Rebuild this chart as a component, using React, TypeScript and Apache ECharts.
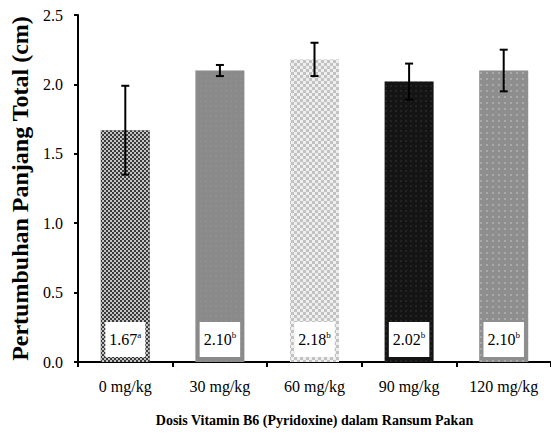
import React, { useEffect, useRef } from "react";
import * as echarts from "echarts";

const categories = ["0 mg/kg", "30 mg/kg", "60 mg/kg", "90 mg/kg", "120 mg/kg"];
const means = [1.67, 2.1, 2.18, 2.02, 2.1];
const sds = [0.32, 0.04, 0.12, 0.13, 0.15];
const letters = ["a", "b", "b", "b", "b"];
const yTicks = { min: 0, max: 2.5, interval: 0.5 };

const barColors = ["#3a3a3a", "#8a8a8a", "#efefef", "#141414", "#8e8e8e"];
const decals = [
  { symbol: "rect", symbolSize: 1, color: "#c4c4c4", dashArrayX: [[2, 2], [0, 2, 2, 0]], dashArrayY: [2, 0] },
  { symbol: "circle", symbolSize: 0.6, color: "#979797", dashArrayX: [[2, 3]], dashArrayY: [2, 3] },
  { symbol: "rect", symbolSize: 1, color: "#c2c2c2", dashArrayX: [[2.5, 2.5], [0, 2.5, 2.5, 0]], dashArrayY: [2.5, 0] },
  { symbol: "circle", symbolSize: 0.7, color: "#3a3a3a", dashArrayX: [[2, 3]], dashArrayY: [2, 3] },
  { symbol: "circle", symbolSize: 0.8, color: "#b8b8b8", dashArrayX: [[2, 4]], dashArrayY: [2, 4] },
];

const FONT = "'Liberation Serif', 'Times New Roman', serif";

export default function App() {
  const ref = useRef<HTMLDivElement>(null);
  useEffect(() => {
    document.body.style.margin = "0";
    if (!ref.current) return;
    const chart = echarts.init(ref.current, null, { renderer: "svg" });
    chart.setOption({
      animation: false,
      backgroundColor: "#ffffff",
      grid: { left: 70, right: 0, top: 15, bottom: 75 },
      xAxis: {
        type: "category",
        data: categories,
        axisLine: { lineStyle: { color: "#000", width: 2 } },
        axisTick: { show: true, length: 5, lineStyle: { color: "#000", width: 2 } },
        axisLabel: { color: "#000", fontFamily: FONT, fontSize: 16, margin: 16, interval: 0 },
        name: "Dosis Vitamin B6 (Pyridoxine) dalam Ransum Pakan",
        nameLocation: "middle",
        nameGap: 51,
        nameTextStyle: { color: "#000", fontFamily: FONT, fontSize: 14, fontWeight: "bold" },
      },
      yAxis: {
        type: "value",
        min: yTicks.min,
        max: yTicks.max,
        interval: yTicks.interval,
        splitLine: { show: false },
        axisLine: { show: true, lineStyle: { color: "#000", width: 2 } },
        axisTick: { show: true, length: 4, lineStyle: { color: "#000", width: 2 } },
        axisLabel: {
          color: "#000",
          fontFamily: FONT,
          fontSize: 16,
          margin: 15,
          formatter: (v: number) => v.toFixed(1),
        },
        name: "Pertumbuhan Panjang Total (cm)",
        nameLocation: "middle",
        nameGap: 46,
        nameTextStyle: { color: "#000", fontFamily: FONT, fontSize: 24, fontWeight: "bold" },
      },
      series: [
        {
          type: "bar",
          barWidth: 49,
          data: means.map((v, i) => ({
            value: v,
            itemStyle: { color: barColors[i], decal: decals[i] },
          })),
          label: {
            show: true,
            position: "insideBottom",
            distance: 5,
            backgroundColor: "#fff",
            padding: [8, 4, 8, 4],
            formatter: (p: any) => `{v|${means[p.dataIndex].toFixed(2)}}{s|${letters[p.dataIndex]}}`,
            rich: {
              v: { fontFamily: FONT, fontSize: 16, color: "#000", lineHeight: 19 },
              s: { fontFamily: FONT, fontSize: 9, color: "#000", lineHeight: 10, verticalAlign: "top" },
            },
          },
        },
        {
          type: "custom",
          z: 10,
          data: means.map((m, i) => [i, m, sds[i]]),
          renderItem: (params: any, api: any) => {
            const x = api.value(0);
            const m = api.value(1);
            const s = api.value(2);
            const top = api.coord([x, m + s]);
            const bot = api.coord([x, m - s]);
            const h = 4;
            const style = { stroke: "#000", lineWidth: 2 };
            return {
              type: "group",
              children: [
                { type: "line", shape: { x1: top[0], y1: top[1], x2: bot[0], y2: bot[1] }, style },
                { type: "line", shape: { x1: top[0] - h, y1: top[1], x2: top[0] + h, y2: top[1] }, style },
                { type: "line", shape: { x1: bot[0] - h, y1: bot[1], x2: bot[0] + h, y2: bot[1] }, style },
              ],
            };
          },
        },
      ],
    });
    return () => chart.dispose();
  }, []);
  return <div ref={ref} style={{ width: 551, height: 437 }} />;
}
